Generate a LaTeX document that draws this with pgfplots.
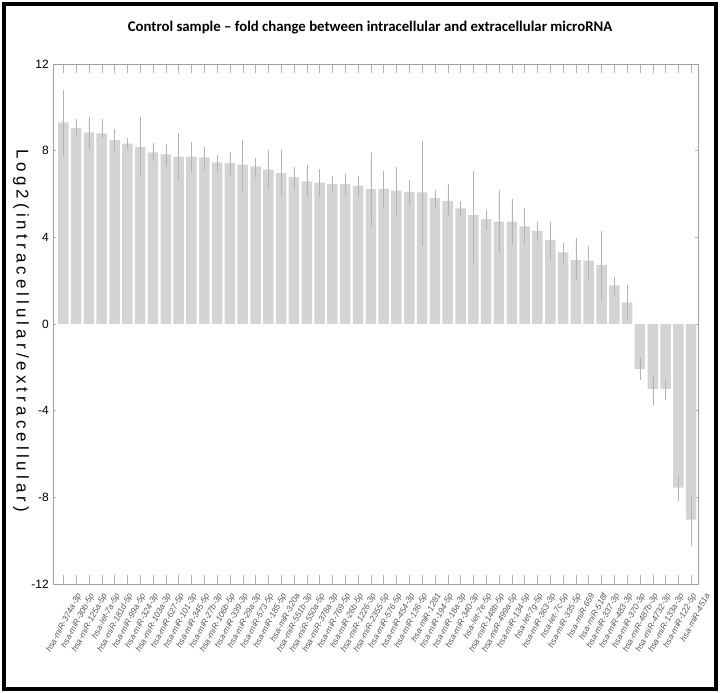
\documentclass[border=0pt]{standalone}
\usepackage{pgfplots}
\pgfplotsset{compat=1.18}
\usepackage{pgfplotstable}
\usepackage{fontspec}
\setmainfont{Liberation Sans}
\newfontfamily\titlefont{Carlito}
\newfontfamily\ylabfont[LetterSpace=24]{Liberation Sans}
\definecolor{bargray}{HTML}{D4D4D4}
\definecolor{errgray}{HTML}{B4B4B4}
\definecolor{axgray}{HTML}{A0A0A0}
\definecolor{labgray}{HTML}{5A5A5A}

\pgfplotstableread{
x y ep em
1 9.31 1.37 1.42
2 9.04 0.29 0.27
3 8.84 0.57 0.64
4 8.80 0.53 0.10
5 8.49 0.38 0.43
6 8.32 0.14 0.12
7 8.18 1.23 1.25
8 7.92 0.29 0.26
9 7.83 0.32 0.44
10 7.73 0.93 1.00
11 7.73 0.54 0.57
12 7.69 0.35 0.47
13 7.46 0.18 0.30
14 7.42 0.39 0.49
15 7.35 1.00 1.14
16 7.27 0.23 0.34
17 7.12 0.75 0.74
18 6.96 0.91 0.92
19 6.78 0.32 0.43
20 6.58 0.61 0.59
21 6.52 0.49 0.53
22 6.45 0.25 0.23
23 6.45 0.33 0.38
24 6.38 0.32 0.39
25 6.24 1.55 1.57
26 6.24 0.69 0.74
27 6.16 0.94 1.06
28 6.10 0.43 0.46
29 6.07 2.23 2.31
30 5.81 0.24 0.31
31 5.68 0.62 0.58
32 5.34 0.22 0.27
33 5.02 1.91 2.08
34 4.84 0.29 0.36
35 4.73 1.32 1.33
36 4.73 0.92 0.91
37 4.50 0.70 0.68
38 4.30 0.27 0.34
39 3.88 0.69 0.74
40 3.31 0.29 0.40
41 2.95 0.88 0.76
42 2.93 0.52 0.71
43 2.72 1.44 1.52
44 1.78 0.24 0.30
45 1.00 0.68 0.71
46 -2.08 0.37 0.37
47 -3.01 0.50 0.58
48 -3.01 0.25 0.34
49 -7.55 0.41 0.47
50 -9.03 1.01 1.08
}\mirdata

\begin{document}
\begin{tikzpicture}[x=1pt,y=1pt]
\useasboundingbox (0,0) rectangle (720,693);
\begin{axis}[
  at={(53.3pt,109pt)}, anchor=south west,
  scale only axis, width=644.7pt, height=520pt,
  xmin=0.22, xmax=50.53, ymin=-12, ymax=12,
  ytick={-12,-8,-4,0,4,8,12},
  yticklabels={-12,-8,-4,0,4,8,12},
  xtick={1,...,50},
  xticklabels={hsa-miR-374a-3p,hsa-miR-30b-5p,hsa-miR-125a-5p,hsa-let-7a-5p,hsa-miR-181d-5p,hsa-miR-99a-5p,hsa-miR-324-3p,hsa-miR-103a-3p,hsa-miR-627-5p,hsa-miR-101-3p,hsa-miR-345-5p,hsa-miR-27b-3p,hsa-miR-106b-5p,hsa-miR-339-3p,hsa-miR-29a-3p,hsa-miR-573-5p,hsa-miR-185-5p,hsa-miR-320a,hsa-miR-551b-3p,hsa-miR-550a-5p,hsa-miR-378a-3p,hsa-miR-769-5p,hsa-miR-26b-5p,hsa-miR-1226-3p,hsa-miR-2355-5p,hsa-miR-576-5p,hsa-miR-454-3p,hsa-miR-136-5p,hsa-miR-1281,hsa-miR-194-5p,hsa-miR-18a-3p,hsa-miR-340-3p,hsa-let-7e-5p,hsa-miR-148b-5p,hsa-miR-499a-5p,hsa-miR-134-5p,hsa-let-7g-5p,hsa-miR-363-3p,hsa-let-7c-5p,hsa-miR-335-5p,hsa-miR-659,hsa-miR-518f,hsa-miR-337-3p,hsa-miR-483-3p,hsa-miR-370-3p,hsa-miR-487b-3p,hsa-miR-4732-3p,hsa-miR-133a-3p,hsa-miR-122-5p,hsa-miR-451a},
  xticklabel style={font=\fontsize{8.5}{9}\selectfont\itshape, text=labgray, rotate=62, anchor=east, inner sep=0pt, yshift=-19pt, xshift=-1pt},
  yticklabel style={font=\fontsize{12}{14}\selectfont, xshift=-1pt},
  xtick pos=both, ytick pos=both, tick align=inside,
  major tick length=9pt,
  ytick style={/pgfplots/major tick length=3pt},
  tick style={axgray!80, line width=0.4pt},
  axis line style={axgray, line width=0.6pt},
  ylabel={Log2(intracellular/extracellular)},
  every axis y label/.style={at={(axis description cs:-0.050,0.487)}, rotate=-90, anchor=center, font=\ylabfont\fontsize{17}{19}\selectfont},
]
\addplot[ybar, bar width=10.5pt, fill=bargray, draw=none,
  error bars/.cd, y dir=both, y explicit,
  error bar style={errgray, line width=0.45pt},
  error mark options={errgray, mark size=3pt, line width=0.45pt}]
  table[x=x, y=y, y error plus=ep, y error minus=em] {\mirdata};
\end{axis}
\node[font=\titlefont\bfseries\fontsize{14.8}{16}\selectfont] at (370,665) {Control sample – fold change between intracellular and extracellular microRNA};
\draw[line width=4pt] (4,4) rectangle (716,689);
\end{tikzpicture}
\end{document}
